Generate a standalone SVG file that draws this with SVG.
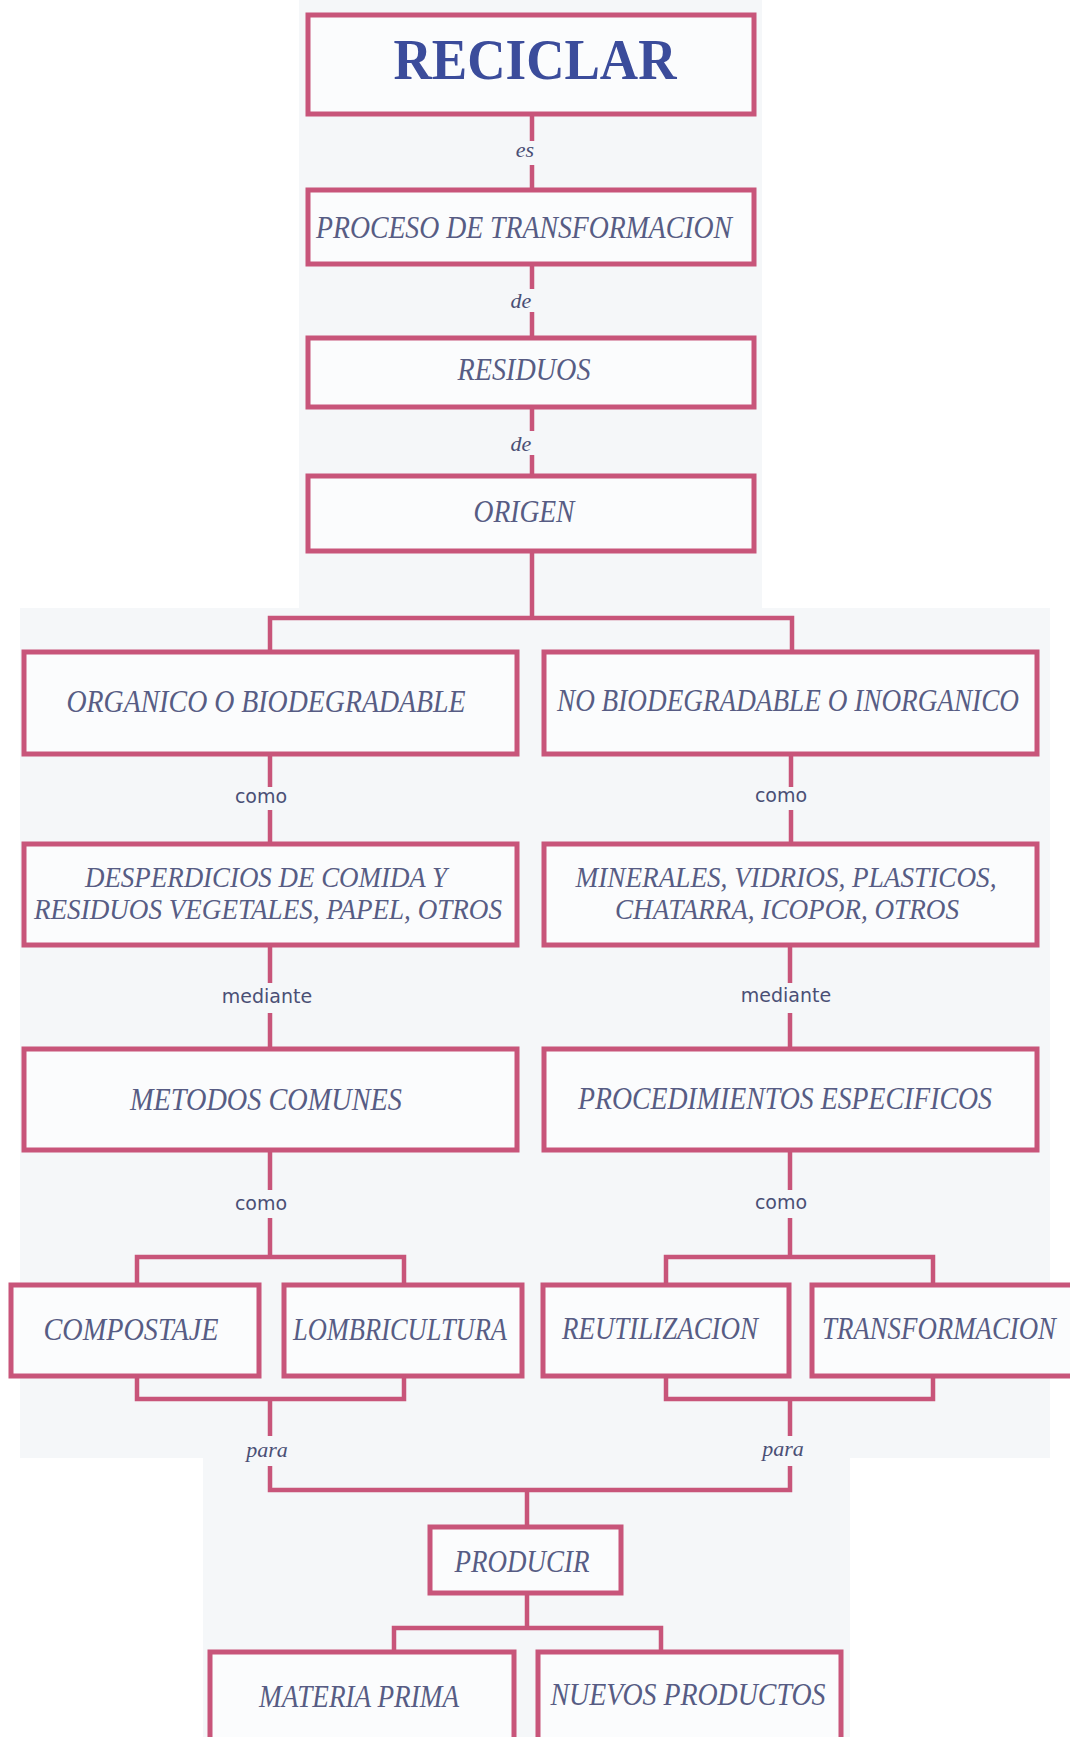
<svg xmlns="http://www.w3.org/2000/svg" width="1070" height="1737" viewBox="0 0 1070 1737">
<style>
.bx{fill:#fbfcfd;stroke:#c8557a;stroke-width:5}
.ln{fill:none;stroke:#c8557a;stroke-width:4.5}
.t{font-family:"Liberation Serif",serif;font-style:italic;font-size:32px;fill:#575c84;text-anchor:middle}
.t2{font-family:"Liberation Serif",serif;font-style:italic;font-size:30px;fill:#575c84;text-anchor:middle}
.li{font-family:"Liberation Serif",serif;font-style:italic;font-size:22px;fill:#4a4f75;text-anchor:middle}
.ls{font-family:"DejaVu Sans",sans-serif;font-size:19px;fill:#4a4f75;text-anchor:middle}
.title{font-family:"Liberation Serif",serif;font-weight:bold;font-size:56px;fill:#3b4c9b;text-anchor:middle}
</style>
<rect width="1070" height="1737" fill="#ffffff"/>
<g fill="#f5f7f9">
<rect x="299" y="0" width="463" height="610"/>
<rect x="20" y="608" width="1030" height="850"/>
<rect x="203" y="1456" width="647" height="281"/>
</g>
<g id="connectors">
<path class="ln" d="M532 114V141M532 165V190"/>
<path class="ln" d="M532 264V289M532 312V338"/>
<path class="ln" d="M532 407V431M532 455V476"/>
<path class="ln" d="M532 551V618M270 652V618H792V652"/>
<path class="ln" d="M270 754V787M270 810V844"/>
<path class="ln" d="M791 754V787M791 810V844"/>
<path class="ln" d="M270 945V983M270 1013V1049"/>
<path class="ln" d="M790 945V983M790 1013V1049"/>
<path class="ln" d="M270 1150V1190M270 1218V1257M137 1285V1257H404V1285"/>
<path class="ln" d="M790 1150V1190M790 1218V1257M666 1285V1257H933V1285"/>
<path class="ln" d="M137 1376V1399H404V1376M270 1399V1436"/>
<path class="ln" d="M666 1376V1399H933V1376M790 1399V1436"/>
<path class="ln" d="M270 1466V1490H790V1466M527 1490V1527"/>
<path class="ln" d="M527 1593V1628M394 1652V1628H661V1652"/>
<text class="li" x="525" y="157">es</text>
<text class="li" x="521" y="308">de</text>
<text class="li" x="521" y="451">de</text>
<text class="ls" x="261" y="803">como</text>
<text class="ls" x="781" y="802">como</text>
<text class="ls" x="267" y="1003">mediante</text>
<text class="ls" x="786" y="1002">mediante</text>
<text class="ls" x="261" y="1210">como</text>
<text class="ls" x="781" y="1209">como</text>
<text class="li" x="267" y="1457">para</text>
<text class="li" x="783" y="1456">para</text>
</g>
<g id="reciclar"><rect class="bx" x="308" y="15" width="446" height="99"/><text class="title" x="535" y="79" textLength="283" lengthAdjust="spacingAndGlyphs">RECICLAR</text></g>
<g id="proceso"><rect class="bx" x="308" y="190" width="446" height="74"/><text class="t" x="524" y="238" textLength="416" lengthAdjust="spacingAndGlyphs">PROCESO DE TRANSFORMACION</text></g>
<g id="residuos"><rect class="bx" x="308" y="338" width="446" height="69"/><text class="t" x="524" y="380" textLength="133" lengthAdjust="spacingAndGlyphs">RESIDUOS</text></g>
<g id="origen"><rect class="bx" x="308" y="476" width="446" height="75"/><text class="t" x="524" y="522" textLength="101" lengthAdjust="spacingAndGlyphs">ORIGEN</text></g>
<g id="organico"><rect class="bx" x="24" y="652" width="493" height="102"/><text class="t" x="266" y="712" textLength="399" lengthAdjust="spacingAndGlyphs">ORGANICO O BIODEGRADABLE</text></g>
<g id="nobio"><rect class="bx" x="544" y="652" width="493" height="102"/><text class="t" x="788" y="711" textLength="462" lengthAdjust="spacingAndGlyphs">NO BIODEGRADABLE O INORGANICO</text></g>
<g id="desperdicios"><rect class="bx" x="24" y="844" width="493" height="101"/><text class="t2" x="266" y="887" textLength="362" lengthAdjust="spacingAndGlyphs">DESPERDICIOS DE COMIDA Y</text><text class="t2" x="268" y="919" textLength="468" lengthAdjust="spacingAndGlyphs">RESIDUOS VEGETALES, PAPEL, OTROS</text></g>
<g id="minerales"><rect class="bx" x="544" y="844" width="493" height="101"/><text class="t2" x="786" y="887" textLength="421" lengthAdjust="spacingAndGlyphs">MINERALES, VIDRIOS, PLASTICOS,</text><text class="t2" x="787" y="919" textLength="344" lengthAdjust="spacingAndGlyphs">CHATARRA, ICOPOR, OTROS</text></g>
<g id="metodos"><rect class="bx" x="24" y="1049" width="493" height="101"/><text class="t" x="266" y="1110" textLength="272" lengthAdjust="spacingAndGlyphs">METODOS COMUNES</text></g>
<g id="procedimientos"><rect class="bx" x="544" y="1049" width="493" height="101"/><text class="t" x="785" y="1109" textLength="414" lengthAdjust="spacingAndGlyphs">PROCEDIMIENTOS ESPECIFICOS</text></g>
<g id="compostaje"><rect class="bx" x="11" y="1285" width="248" height="91"/><text class="t" x="131" y="1340" textLength="175" lengthAdjust="spacingAndGlyphs">COMPOSTAJE</text></g>
<g id="lombricultura"><rect class="bx" x="284" y="1285" width="238" height="91"/><text class="t" x="400" y="1340" textLength="214" lengthAdjust="spacingAndGlyphs">LOMBRICULTURA</text></g>
<g id="reutilizacion"><rect class="bx" x="543" y="1285" width="246" height="91"/><text class="t" x="660" y="1339" textLength="196" lengthAdjust="spacingAndGlyphs">REUTILIZACION</text></g>
<g id="transformacion"><rect class="bx" x="812" y="1285" width="270" height="91"/><text class="t" x="939" y="1339" textLength="234" lengthAdjust="spacingAndGlyphs">TRANSFORMACION</text></g>
<g id="producir"><rect class="bx" x="430" y="1527" width="191" height="66"/><text class="t" x="522" y="1572" textLength="135" lengthAdjust="spacingAndGlyphs">PRODUCIR</text></g>
<g id="materia"><rect class="bx" x="210" y="1652" width="304" height="100"/><text class="t" x="359" y="1707" textLength="200" lengthAdjust="spacingAndGlyphs">MATERIA PRIMA</text></g>
<g id="nuevos"><rect class="bx" x="538" y="1652" width="303" height="100"/><text class="t" x="688" y="1705" textLength="275" lengthAdjust="spacingAndGlyphs">NUEVOS PRODUCTOS</text></g>
</svg>
